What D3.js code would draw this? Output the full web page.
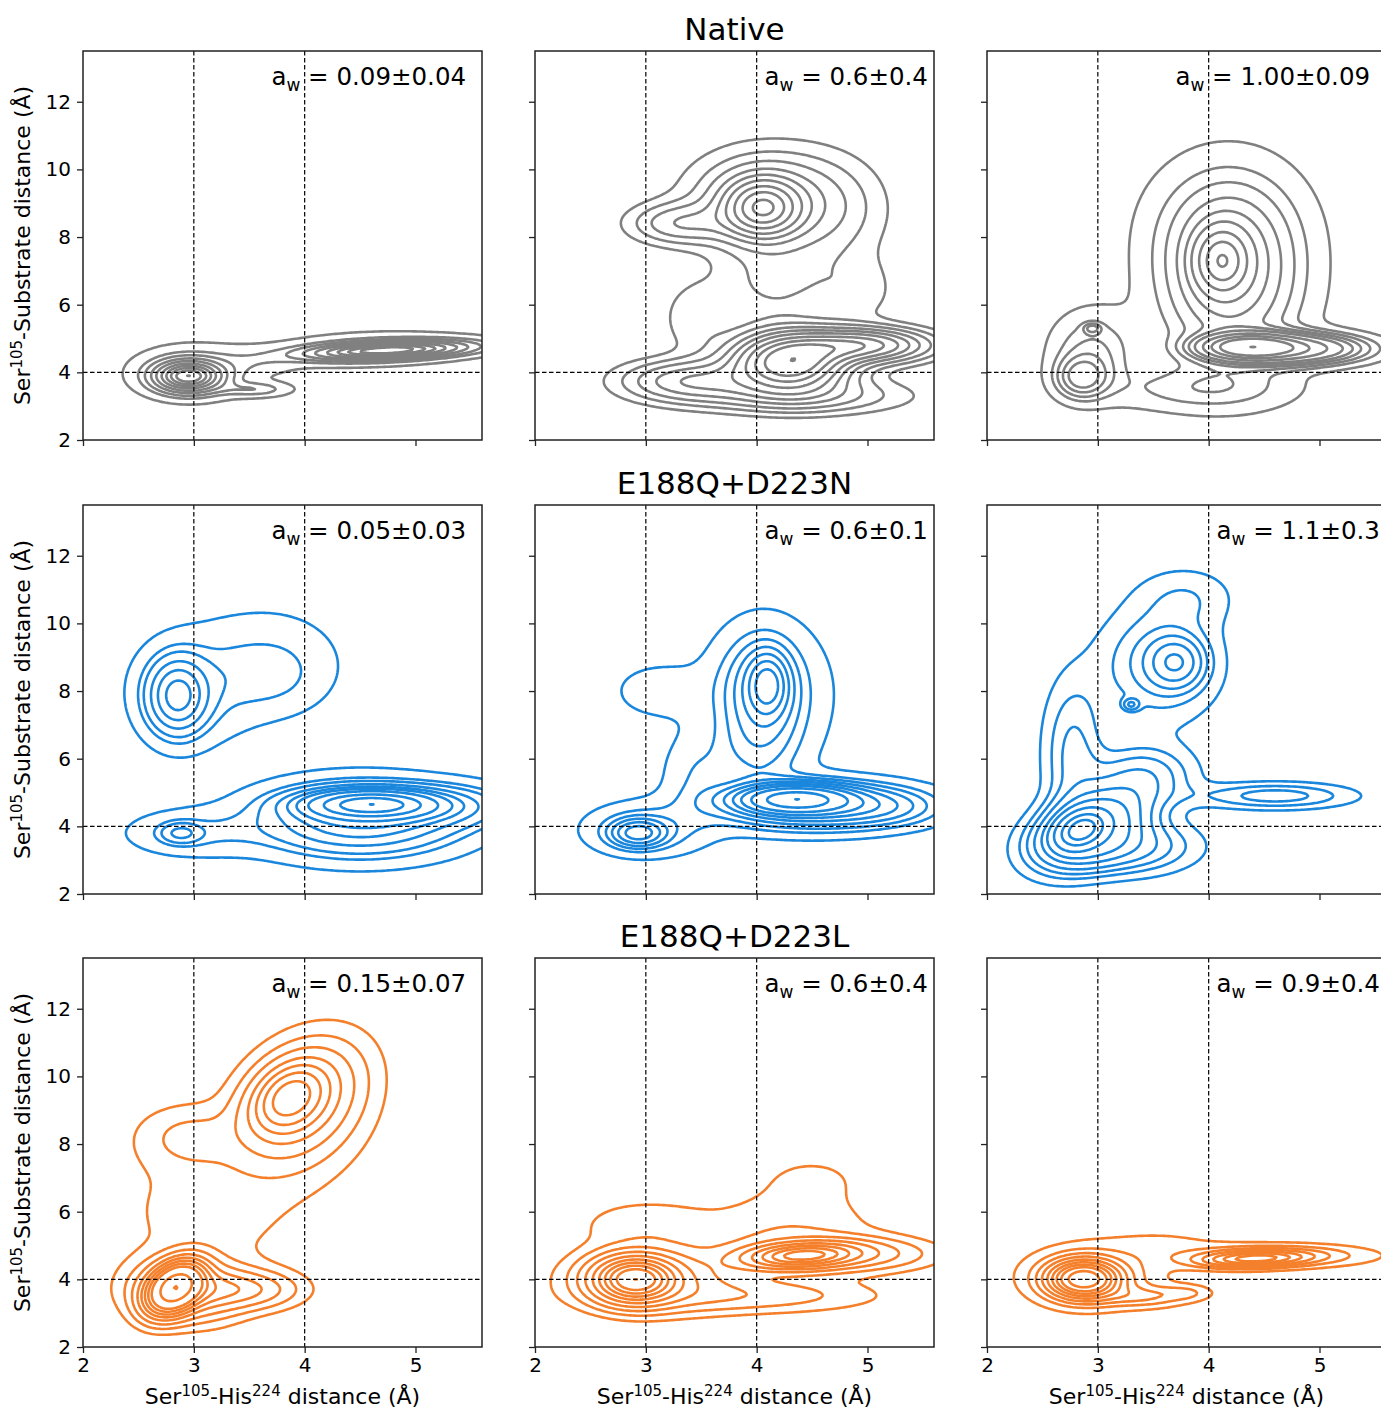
<!DOCTYPE html>
<html><head><meta charset="utf-8">
<script src="https://cdn.jsdelivr.net/npm/d3@7"></script>
<style>body{margin:0;background:#fff} text{font-family:"DejaVu Sans",sans-serif;fill:#000}</style>
</head><body><svg id="c" width="1381" height="1410"></svg>
<script>
// ---------------- data ----------------
const rowTitles = ["Native", "E188Q+D223N", "E188Q+D223L"];
const rowColors = ["#808080", "#1a87dd", "#f5802c"];
const xTicks = [2, 3, 4, 5];
const yTicks = [2, 4, 6, 8, 10, 12];
const xDomain = [2, 5.6];
const yDomain = [2, 13.5];
const refX = [3, 4];
const refY = [4];
const awValues = [
  ["0.09±0.04", "0.6±0.4", "1.00±0.09"],
  ["0.05±0.03", "0.6±0.1", "1.1±0.3"],
  ["0.15±0.07", "0.6±0.4", "0.9±0.4"]
];
const isoProps = [0.05, 0.1556, 0.2611, 0.3667, 0.4722, 0.5778, 0.6833, 0.7889, 0.8944, 0.999];

// density components: [centre x, centre y, sd x, sd y, correlation, weight]
const nativeA = [
  [2.95, 3.88, 0.2, 0.3, 0.0, 0.30],
  [3.0, 4.05, 0.36, 0.5, 0.0, 0.12],
  [4.75, 4.65, 0.45, 0.17, 0.35, 0.36],
  [4.6, 4.7, 0.6, 0.33, 0.2, 0.12],
  [3.55, 3.5, 0.2, 0.14, 0.0, 0.025],
  [3.55, 4.3, 0.25, 0.25, 0.0, 0.02]
];
const nativeB = [
  [4.05, 8.85, 0.22, 0.55, 0.0, 0.09],
  [4.1, 9.1, 0.45, 0.95, 0.0, 0.14],
  [3.3, 8.4, 0.3, 0.4, 0.0, 0.03],
  [4.7, 8.7, 0.35, 1.1, 0.0, 0.04],
  [4.15, 6.6, 0.35, 0.8, 0.0, 0.035],
  [4.9, 6.4, 0.25, 0.7, 0.0, 0.015],
  [3.45, 5.6, 0.2, 0.7, 0.0, 0.015],
  [4.3, 4.3, 0.33, 0.55, 0.0, 0.22],
  [4.95, 4.8, 0.38, 0.32, 0.0, 0.09],
  [3.4, 3.75, 0.4, 0.4, 0.0, 0.06],
  [4.4, 3.3, 0.6, 0.35, 0.0, 0.05]
];
const nativeC = [
  [4.2, 6.8, 0.42, 1.7, 0.0, 0.30],
  [4.12, 7.3, 0.14, 0.55, 0.0, 0.07],
  [4.15, 8.5, 0.45, 1.3, 0.0, 0.07],
  [4.35, 4.75, 0.25, 0.22, 0.0, 0.08],
  [4.75, 4.7, 0.4, 0.28, 0.0, 0.10],
  [3.9, 3.5, 0.55, 0.45, 0.0, 0.035],
  [2.85, 3.85, 0.15, 0.4, 0.0, 0.02],
  [2.95, 5.3, 0.05, 0.1, 0.0, 0.001],
  [2.95, 4.6, 0.25, 0.8, 0.0, 0.04]
];
const mutNA = [
  [2.85, 7.85, 0.17, 0.7, 0.0, 0.10],
  [3.0, 8.0, 0.35, 1.0, 0.0, 0.06],
  [3.7, 8.4, 0.3, 0.7, 0.0, 0.025],
  [3.65, 9.0, 0.45, 1.0, 0.0, 0.05],
  [4.6, 4.65, 0.35, 0.25, 0.0, 0.25],
  [4.5, 4.2, 0.55, 0.65, 0.0, 0.30],
  [5.3, 4.6, 0.4, 0.4, 0.0, 0.05],
  [2.88, 3.8, 0.12, 0.2, 0.0, 0.008],
  [3.0, 3.8, 0.4, 0.45, 0.0, 0.03]
];
const mutNB = [
  [4.1, 8.2, 0.11, 0.55, 0.0, 0.05],
  [4.05, 8.0, 0.22, 1.0, 0.0, 0.11],
  [4.1, 7.9, 0.4, 1.45, 0.0, 0.10],
  [4.0, 6.2, 0.25, 0.8, 0.0, 0.04],
  [4.35, 4.8, 0.3, 0.25, 0.0, 0.20],
  [4.5, 4.6, 0.55, 0.45, 0.0, 0.20],
  [5.1, 4.6, 0.35, 0.35, 0.0, 0.04],
  [2.93, 3.8, 0.15, 0.25, 0.0, 0.03],
  [3.0, 3.9, 0.35, 0.5, 0.0, 0.05],
  [3.1, 8.0, 0.3, 0.6, 0.0, 0.02],
  [3.45, 5.5, 0.2, 0.8, 0.0, 0.025]
];
const mutNC = [
  [2.85, 3.9, 0.12, 0.3, 0.3, 0.16],
  [2.95, 4.0, 0.3, 0.7, 0.4, 0.22],
  [3.2, 3.4, 0.4, 0.5, 0.0, 0.08],
  [3.7, 8.85, 0.15, 0.45, 0.0, 0.04],
  [3.55, 8.8, 0.35, 1.1, 0.0, 0.10],
  [2.78, 6.2, 0.18, 1.4, 0.0, 0.06],
  [3.3, 7.6, 0.05, 0.12, 0.0, 0.0015],
  [3.4, 5.5, 0.3, 0.6, 0.0, 0.05],
  [4.6, 4.9, 0.45, 0.25, 0.0, 0.03],
  [3.8, 10.8, 0.3, 0.6, 0.0, 0.02]
];
const mutLA = [
  [2.83, 3.75, 0.15, 0.45, 0.35, 0.22],
  [2.95, 3.7, 0.3, 0.55, 0.0, 0.12],
  [3.45, 3.7, 0.3, 0.35, 0.0, 0.05],
  [3.85, 9.4, 0.2, 0.6, 0.3, 0.10],
  [3.95, 9.3, 0.32, 1.0, 0.35, 0.20],
  [4.0, 8.8, 0.4, 1.35, 0.2, 0.09],
  [2.95, 8.2, 0.3, 0.6, 0.0, 0.03],
  [3.1, 6.0, 0.55, 1.4, 0.0, 0.07]
];
const mutLB = [
  [2.9, 4.0, 0.22, 0.4, 0.0, 0.30],
  [3.1, 4.0, 0.45, 0.55, 0.0, 0.15],
  [4.4, 4.7, 0.3, 0.22, 0.2, 0.15],
  [4.8, 4.75, 0.45, 0.3, 0.0, 0.08],
  [4.3, 5.2, 0.5, 0.8, 0.0, 0.08],
  [3.9, 3.5, 0.7, 0.3, 0.0, 0.06],
  [4.5, 7.0, 0.4, 0.6, 0.0, 0.02],
  [3.0, 5.6, 0.4, 0.5, 0.0, 0.03]
];
const mutLC = [
  [2.87, 4.0, 0.2, 0.35, 0.0, 0.38],
  [2.95, 4.1, 0.38, 0.55, 0.0, 0.16],
  [3.4, 3.5, 0.25, 0.2, 0.0, 0.04],
  [4.4, 4.6, 0.3, 0.15, 0.2, 0.12],
  [4.6, 4.7, 0.5, 0.2, 0.0, 0.11],
  [3.6, 5.0, 0.4, 0.35, 0.0, 0.03],
  [3.8, 3.6, 0.15, 0.15, 0.0, 0.01]
];
const panels = [[nativeA, nativeB, nativeC], [mutNA, mutNB, mutNC], [mutLA, mutLB, mutLC]];

// ---------------- layout ----------------
const colX = [83, 535, 987], rowY = [51, 505, 958], PW = 399, PH = 389;
const svg = d3.select("#c");
const defs = svg.append("defs");

const gx0 = 1.0, gx1 = 6.8, gy0 = 0, gy1 = 15.5, nx = 291, ny = 311;
const gdx = (gx1 - gx0) / (nx - 1), gdy = (gy1 - gy0) / (ny - 1);
function densityGrid(comps) {
  const v = new Float64Array(nx * ny);
  for (const [mx, my, sx, sy, r, w] of comps) {
    const k = w / (2 * Math.PI * sx * sy * Math.sqrt(1 - r * r));
    const q = -0.5 / (1 - r * r);
    for (let j = 0; j < ny; j++) {
      const dy = (gy0 + j * gdy - my) / sy;
      for (let i = 0; i < nx; i++) {
        const dx = (gx0 + i * gdx - mx) / sx;
        v[j * nx + i] += k * Math.exp(q * (dx * dx - 2 * r * dx * dy + dy * dy));
      }
    }
  }
  return v;
}
function isoLevels(v) {
  const s = Array.from(v).sort((a, b) => b - a);
  const tot = d3.sum(s);
  const cum = new Float64Array(s.length);
  let acc = 0;
  for (let i = 0; i < s.length; i++) { acc += s[i]; cum[i] = acc / tot; }
  return isoProps.map(p => {
    const idx = d3.bisectLeft(cum, 1 - p);
    return s[Math.min(idx, s.length - 1)];
  });
}

panels.forEach((row, ri) => {
  row.forEach((comps, ci) => {
    const x0 = colX[ci], y0 = rowY[ri];
    const xs = d3.scaleLinear().domain(xDomain).range([x0, x0 + PW]);
    const ys = d3.scaleLinear().domain(yDomain).range([y0 + PH, y0]);
    const g = svg.append("g");
    const cid = `clip${ri}${ci}`;
    defs.append("clipPath").attr("id", cid).append("rect")
      .attr("x", x0).attr("y", y0).attr("width", PW).attr("height", PH);

    const vals = densityGrid(comps);
    const levels = isoLevels(vals);
    const cs = d3.contours().size([nx, ny]).thresholds(levels)(vals);
    const proj = d3.geoTransform({
      point(px, py) { this.stream.point(xs(gx0 + (px - 0.5) * gdx), ys(gy0 + (py - 0.5) * gdy)); }
    });
    const path = d3.geoPath(proj);
    g.append("g").attr("clip-path", `url(#${cid})`)
      .selectAll("path").data(cs).join("path")
      .attr("d", path).attr("fill", "none")
      .attr("stroke", rowColors[ri]).attr("stroke-width", 2.6).attr("stroke-linejoin", "round");

    const rl = g.append("g").attr("stroke", "#000").attr("stroke-width", 1.2).attr("stroke-dasharray", "4.5,2.5");
    refX.forEach(v => rl.append("line").attr("x1", xs(v)).attr("x2", xs(v)).attr("y1", y0).attr("y2", y0 + PH));
    refY.forEach(v => rl.append("line").attr("x1", x0).attr("x2", x0 + PW).attr("y1", ys(v)).attr("y2", ys(v)));

    const ax = d3.axisBottom(xs).tickValues(xTicks).tickSize(6).tickPadding(5)
      .tickFormat(ri === 2 ? d3.format("d") : () => "");
    const axg = g.append("g").attr("transform", `translate(0,${y0 + PH})`).call(ax);
    const ay = d3.axisLeft(ys).tickValues(yTicks).tickSize(6).tickPadding(6)
      .tickFormat(ci === 0 ? d3.format("d") : () => "");
    const ayg = g.append("g").attr("transform", `translate(${x0},0)`).call(ay);
    [axg, ayg].forEach(a => {
      a.select(".domain").remove();
      a.selectAll(".tick line").attr("stroke", "#222").attr("stroke-width", 1.3);
      a.selectAll(".tick text").attr("font-size", 20).attr("font-family", "DejaVu Sans").attr("fill", "#000");
    });
    g.append("rect").attr("x", x0).attr("y", y0).attr("width", PW).attr("height", PH)
      .attr("fill", "none").attr("stroke", "#222").attr("stroke-width", 1.5);

    const label = awValues[ri][ci];
    const ax0 = label.length > 7 ? xs(3.7) : xs(4.07);
    const t = g.append("text").attr("x", ax0).attr("y", y0 + 34).attr("font-size", 24.5);
    t.append("tspan").text("a");
    t.append("tspan").attr("dy", 6).attr("font-size", 17).text("w");
    t.append("tspan").attr("dy", -6).text(" = " + label);

    if (ci === 0) {
      const yl = g.append("text").attr("transform", `translate(30,${y0 + PH / 2}) rotate(-90)`)
        .attr("text-anchor", "middle").attr("font-size", 22);
      yl.append("tspan").text("Ser");
      yl.append("tspan").attr("dy", -8).attr("font-size", 15).text("105");
      yl.append("tspan").attr("dy", 8).text("-Substrate distance (Å)");
    }
    if (ri === 2) {
      const xl = g.append("text").attr("x", x0 + PW / 2).attr("y", y0 + PH + 57)
        .attr("text-anchor", "middle").attr("font-size", 22);
      xl.append("tspan").text("Ser");
      xl.append("tspan").attr("dy", -8).attr("font-size", 15).text("105");
      xl.append("tspan").attr("dy", 8).text("-His");
      xl.append("tspan").attr("dy", -8).attr("font-size", 15).text("224");
      xl.append("tspan").attr("dy", 8).text(" distance (Å)");
    }
  });
  svg.append("text").attr("x", colX[1] + PW / 2).attr("y", rowY[ri] - 11)
    .attr("text-anchor", "middle").attr("font-size", 31).text(rowTitles[ri]);
});
</script></body></html>
